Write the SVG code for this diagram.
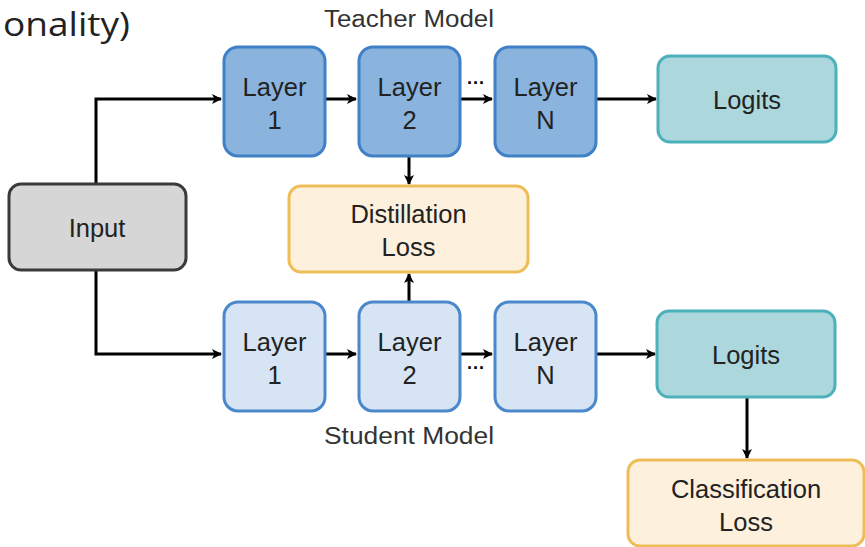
<svg xmlns="http://www.w3.org/2000/svg" width="865" height="547" viewBox="0 0 865 547">
<defs>
<marker id="ah" markerWidth="10" markerHeight="10" refX="9" refY="5" orient="auto" markerUnits="userSpaceOnUse" viewBox="0 0 10 10">
<path d="M0,0 L10,5 L0,10 L2.5,5 Z" fill="#000"/>
</marker>
</defs>
<style>
.t{font-family:"Liberation Sans",Arial,sans-serif;font-size:25.5px;fill:#222;text-anchor:middle}
.lab{font-family:"Liberation Sans",Arial,sans-serif;font-size:23px;fill:#333;text-anchor:middle}
.tl{fill:#8ab4de;stroke:#3f80c6;stroke-width:3}
.sl{fill:#d6e4f4;stroke:#4a88cb;stroke-width:3}
.lg{fill:#acd8dd;stroke:#4cb1ba;stroke-width:3}
.ls{fill:#fdf0dd;stroke:#efbd58;stroke-width:3}
.in{fill:#d6d6d6;stroke:#3a3a3a;stroke-width:3}
.c{fill:none;stroke:#000;stroke-width:3;marker-end:url(#ah)}
.dots{font-family:"Liberation Sans",Arial,sans-serif;font-size:18px;fill:#000;font-weight:bold}
</style>
<text x="3" y="36" textLength="127" lengthAdjust="spacingAndGlyphs" style="font-family:'Open Sans',sans-serif;font-size:33px;fill:#222">onality)</text>
<text class="lab" x="409" y="27" textLength="170" lengthAdjust="spacingAndGlyphs">Teacher Model</text>
<text class="lab" x="409" y="444" textLength="170" lengthAdjust="spacingAndGlyphs">Student Model</text>
<g id="connectors">
<path class="c" d="M96,184 V99 H221"/>
<path class="c" d="M96,270 V354 H221"/>
<path class="c" d="M325,99 H356"/>
<path class="c" d="M460,99 H492"/>
<path class="c" d="M597,99 H656"/>
<path class="c" d="M409,157 V184"/>
<path class="c" d="M409,301 V274"/>
<path class="c" d="M325,354 H356"/>
<path class="c" d="M460,354 H492"/>
<path class="c" d="M597,354 H655"/>
<path class="c" d="M747,397 V458"/>
<text class="dots" x="467" y="89">···</text>
<text class="dots" x="467" y="374">···</text>
</g>
<g id="input"><rect class="in" x="9" y="184" width="177" height="86" rx="12"/><text class="t" x="97" y="237">Input</text></g>
<g id="t1"><rect class="tl" x="224" y="47" width="101" height="109" rx="14"/><text class="t" x="274.5" y="96">Layer</text><text class="t" x="274.5" y="129">1</text></g>
<g id="t2"><rect class="tl" x="359" y="47" width="101" height="109" rx="14"/><text class="t" x="409.5" y="96">Layer</text><text class="t" x="409.5" y="129">2</text></g>
<g id="tn"><rect class="tl" x="495" y="47" width="101" height="109" rx="14"/><text class="t" x="545.5" y="96">Layer</text><text class="t" x="545.5" y="129">N</text></g>
<g id="tlogits"><rect class="lg" x="658" y="56" width="178" height="86" rx="12"/><text class="t" x="747" y="109">Logits</text></g>
<g id="distill"><rect class="ls" x="289" y="186" width="239" height="86" rx="12"/><text class="t" x="408.5" y="223">Distillation</text><text class="t" x="408.5" y="256">Loss</text></g>
<g id="s1"><rect class="sl" x="224" y="302" width="101" height="109" rx="14"/><text class="t" x="274.5" y="351">Layer</text><text class="t" x="274.5" y="384">1</text></g>
<g id="s2"><rect class="sl" x="359" y="302" width="101" height="109" rx="14"/><text class="t" x="409.5" y="351">Layer</text><text class="t" x="409.5" y="384">2</text></g>
<g id="sn"><rect class="sl" x="495" y="302" width="101" height="109" rx="14"/><text class="t" x="545.5" y="351">Layer</text><text class="t" x="545.5" y="384">N</text></g>
<g id="slogits"><rect class="lg" x="657" y="311" width="178" height="86" rx="12"/><text class="t" x="746" y="364">Logits</text></g>
<g id="closs"><rect class="ls" x="628" y="460" width="236" height="86" rx="12"/><text class="t" x="746" y="498">Classification</text><text class="t" x="746" y="531">Loss</text></g>
</svg>
